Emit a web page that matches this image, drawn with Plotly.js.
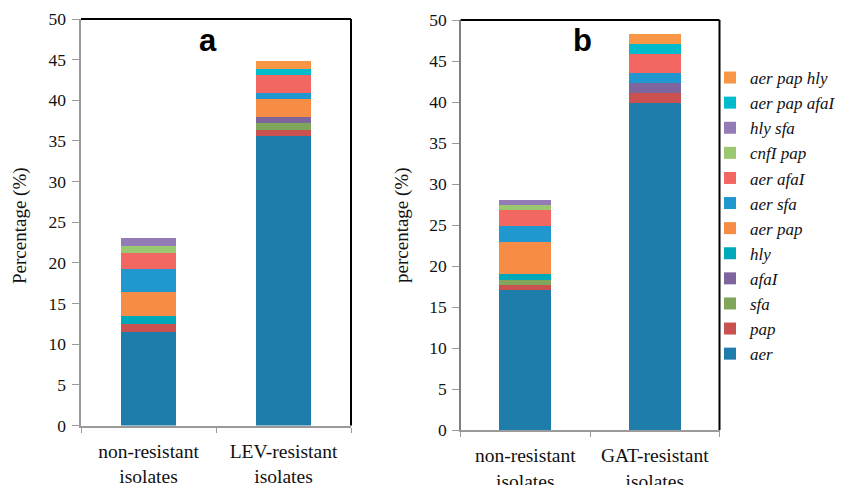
<!DOCTYPE html>
<html>
<head>
<meta charset="utf-8">
<script src="https://cdn.plot.ly/plotly-3.0.1.min.js"></script>
<style>html,body{margin:0;padding:0;background:#fff;}#chart{width:859px;height:485px;}</style>
</head>
<body>
<div id="chart"></div>
<script>
const genes = ['aer','pap','sfa','afaI','hly','aer pap','aer sfa','aer afaI','cnfI pap','hly sfa','aer pap afaI','aer pap hly'];
const colors = ['#1f7dab','#c9514f','#7fa65a','#7f659e','#00a9b9','#f68c45','#2097ce','#f26762','#9bc770','#937cb6','#00bbcc','#f79647'];
const categoriesA = ['non-resistant<br>isolates','LEV-resistant<br>isolates'];
const categoriesB = ['non-resistant<br>isolates','GAT-resistant<br>isolates'];
// values per gene: [non-resistant, resistant]
const valuesA = [[11.5,35.6],[1.0,0.7],[0,0.9],[0,0.8],[1.0,0],[2.9,2.2],[2.9,0.7],[1.9,2.2],[0.9,0],[1.0,0],[0,0.8],[0,0.9]];
const valuesB = [[17.1,39.9],[0.6,1.2],[0.6,0],[0,1.2],[0.7,0],[3.9,0],[2.0,1.2],[1.9,2.4],[0.6,0],[0.7,0],[0,1.2],[0,1.2]];
const yTicks = [0,5,10,15,20,25,30,35,40,45,50];

const traces = [];
genes.forEach((g,i)=>{
  traces.push({type:'bar', name:g, x:categoriesA, y:valuesA[i], xaxis:'x', yaxis:'y',
    marker:{color:colors[i], line:{width:0}}, width:0.41, showlegend:true, hoverinfo:'skip'});
});
genes.forEach((g,i)=>{
  traces.push({type:'bar', name:g, x:categoriesB, y:valuesB[i], xaxis:'x2', yaxis:'y2',
    marker:{color:colors[i], line:{width:0}}, width:0.40, showlegend:false, hoverinfo:'skip'});
});

const serif = 'Liberation Serif, Times New Roman, serif';
const W=859,H=485;
const xa = (x0,x1)=>[x0/W,x1/W];
const ya = (top,bot)=>[1-bot/H,1-top/H];

const axX = (dom, anchor)=>({domain:dom, anchor:anchor, type:'category', range:[-0.5,1.5],
  showgrid:false, zeroline:false, showline:true, linecolor:'#9a9a9a', linewidth:2,
  ticks:'outside', ticklen:5, tickcolor:'#9a9a9a', tickwidth:1, tickson:'boundaries',
  ticklabelstandoff:7,
  tickfont:{family:serif,size:19.5,color:'#111'}, fixedrange:true});
const axY = (dom, anchor, lw, lc)=>({domain:dom, anchor:anchor, range:[0,50], tickvals:yTicks,
  showgrid:false, zeroline:false, showline:true, linecolor:lc, linewidth:lw,
  ticks:'outside', ticklen:7, tickcolor:'#9a9a9a', tickwidth:1, ticklabelstandoff:2,
  tickfont:{family:serif,size:17.5,color:'#111'}, fixedrange:true});

const layout = {
  width:W, height:H, margin:{l:0,r:0,t:0,b:0}, paper_bgcolor:'#fff', plot_bgcolor:'#fff',
  barmode:'stack', bargap:0.59,
  xaxis: axX(xa(81,351),'y'),
  yaxis: axY(ya(19,425.5),'x',2.5,'#9a9a9a'),
  xaxis2: axX(xa(460.5,719.5),'y2'),
  yaxis2: axY(ya(20,430),'x2',1.2,'#808080'),
  showlegend:true,
  legend:{x:710/W, y:1-60/H, xanchor:'left', yanchor:'top', traceorder:'reversed',
    font:{family:serif,size:17,color:'#111',style:'italic'}, bgcolor:'rgba(0,0,0,0)'},
  shapes:[
    {type:'line',xref:'x domain',yref:'y domain',x0:0,x1:1,y0:1,y1:1,line:{color:'#000',width:2},layer:'below'},
    {type:'line',xref:'x domain',yref:'y domain',x0:1,x1:1,y0:0,y1:1,line:{color:'#000',width:2},layer:'below'},
    {type:'line',xref:'x2 domain',yref:'y2 domain',x0:0,x1:1,y0:1,y1:1,line:{color:'#000',width:2},layer:'below'},
    {type:'line',xref:'x2 domain',yref:'y2 domain',x0:1,x1:1,y0:0,y1:1,line:{color:'#000',width:2},layer:'below'}
  ],
  annotations:[
    {text:'<b>a</b>', xref:'paper', yref:'paper', x:208/W, y:1-40/H, xanchor:'center', yanchor:'middle', showarrow:false,
      font:{family:'Liberation Sans, Arial, sans-serif', size:31, color:'#000'}},
    {text:'<b>b</b>', xref:'paper', yref:'paper', x:582/W, y:1-40/H, xanchor:'center', yanchor:'middle', showarrow:false,
      font:{family:'Liberation Sans, Arial, sans-serif', size:31, color:'#000'}},
    {text:'Percentage (%)', xref:'paper', yref:'paper', x:20/W, y:1-226/H, xanchor:'center', yanchor:'middle', showarrow:false, textangle:-90,
      font:{family:serif,size:19,color:'#111'}},
    {text:'percentage (%)', xref:'paper', yref:'paper', x:402/W, y:1-225/H, xanchor:'center', yanchor:'middle', showarrow:false, textangle:-90,
      font:{family:serif,size:19,color:'#111'}}
  ]
};
Plotly.newPlot('chart', traces, layout, {displayModeBar:false, staticPlot:true});
</script>
</body>
</html>
